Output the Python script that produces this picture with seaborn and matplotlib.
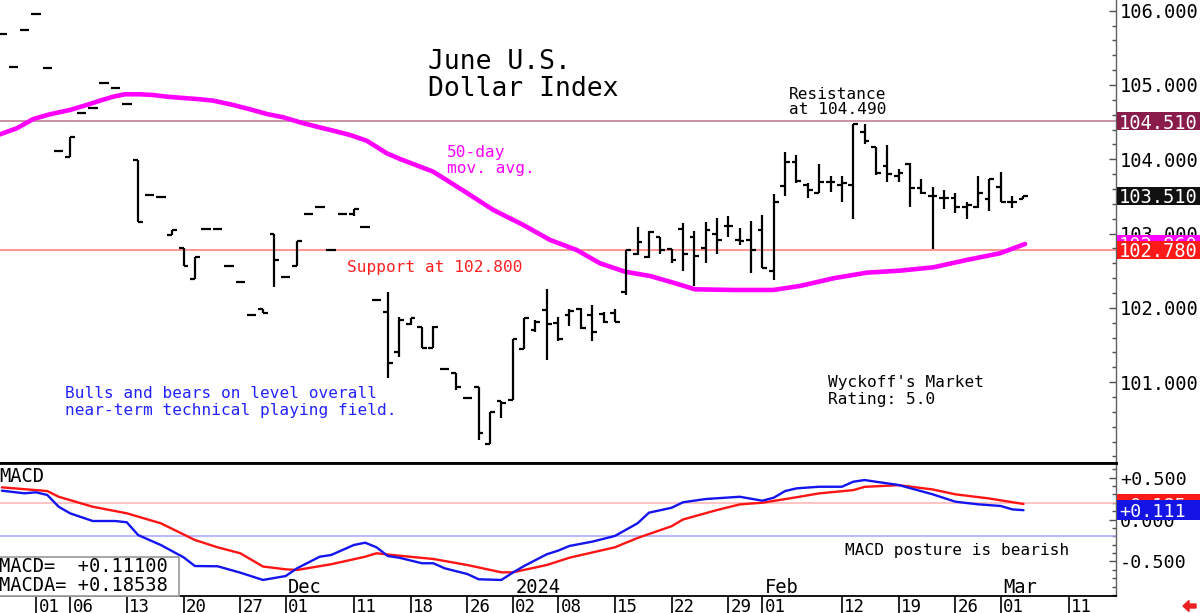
import numpy as np
import matplotlib
matplotlib.use("Agg")
import matplotlib.pyplot as plt
import seaborn as sns
from matplotlib import transforms
from matplotlib.patches import Rectangle, FancyArrow
from matplotlib.ticker import MultipleLocator

# ---------------- data (x = trading-day index, 0 = Nov 01) ----------------
day_idx = list(range(-3, 88))
opens = [105.69, 105.24, 105.74, 105.96, 105.23, 104.11, 104.03, 104.62, 104.69, 105.03,
         104.96, 104.74, 103.99, 103.52, 103.49, 102.98, 102.80, 102.39, 103.06, 103.06,
         102.56, 102.35, 101.90, 101.98, 102.99, 102.41, 102.56, 103.26, 103.36, 102.78,
         103.26, 103.26, 103.09, 102.10, 101.95, 101.40, 101.78, 101.74, 101.46, 101.18,
         101.13, 100.79, 100.93, 100.17, 100.74, 100.76, 101.45, 101.70, 101.97, 101.80,
         101.90, 101.98, 101.90, 101.92, 101.93, 102.22, 102.73, 102.69, 102.95, 102.79,
         103.06, 102.96, 102.80, 103.00, 103.10, 102.91, 102.92, 103.05, 102.49, 103.64,
         103.97, 103.65, 103.55, 103.70, 103.65, 103.65, 104.37, 104.17, 103.91, 103.77,
         103.94, 103.62, 103.50, 103.48, 103.48, 103.36, 103.36, 103.46, 103.63, 103.43,
         103.46]
highs = [105.69, 105.24, 105.74, 105.96, 105.23, 104.11, 104.30, 104.62, 104.69, 105.03,
         104.96, 104.74, 103.99, 103.52, 103.49, 103.05, 102.80, 102.68, 103.06, 103.06,
         102.56, 102.35, 101.90, 101.98, 102.99, 102.41, 102.90, 103.26, 103.36, 102.78,
         103.26, 103.33, 103.09, 102.10, 102.22, 101.875, 101.86, 101.74, 101.75, 101.18,
         101.13, 100.79, 100.93, 100.60, 100.74, 101.58, 101.86, 101.84, 102.25, 101.88,
         101.98, 102.00, 102.04, 101.94, 101.98, 102.78, 103.09, 103.03, 102.95, 102.79,
         103.14, 103.03, 103.15, 103.21, 103.23, 103.08, 103.17, 103.25, 103.53, 104.10,
         104.06, 103.68, 103.94, 103.78, 103.77, 104.48, 104.47, 104.17, 104.19, 103.87,
         103.95, 103.73, 103.63, 103.59, 103.54, 103.42, 103.78, 103.73, 103.83, 103.50,
         103.51]
lows = [105.69, 105.24, 105.74, 105.96, 105.23, 104.11, 104.03, 104.62, 104.69, 105.03,
        104.96, 104.74, 103.16, 103.52, 103.49, 102.98, 102.56, 102.39, 103.06, 103.06,
        102.56, 102.35, 101.90, 101.93, 102.28, 102.41, 102.56, 103.26, 103.36, 102.78,
        103.26, 103.24, 103.09, 102.10, 101.06, 101.34, 101.77, 101.46, 101.46, 101.18,
        100.90, 100.79, 100.22, 100.17, 100.52, 100.76, 101.44, 101.68, 101.30, 101.56,
        101.75, 101.72, 101.56, 101.80, 101.81, 102.18, 102.71, 102.67, 102.72, 102.60,
        102.49, 102.29, 102.60, 102.73, 102.96, 102.85, 102.47, 102.53, 102.37, 103.50,
        103.68, 103.48, 103.54, 103.56, 103.43, 103.19, 104.20, 103.79, 103.70, 103.69,
        103.36, 103.53, 102.79, 103.33, 103.28, 103.19, 103.34, 103.30, 103.42, 103.35,
        103.46]
closes = [105.69, 105.24, 105.74, 105.96, 105.23, 104.11, 104.30, 104.62, 104.69, 105.03,
          104.96, 104.74, 103.16, 103.52, 103.49, 103.05, 102.56, 102.68, 103.06, 103.06,
          102.56, 102.35, 101.90, 101.93, 102.65, 102.41, 102.90, 103.26, 103.36, 102.78,
          103.26, 103.33, 103.09, 102.10, 101.26, 101.84, 101.86, 101.46, 101.74, 101.18,
          100.93, 100.79, 100.32, 100.60, 100.72, 101.58, 101.86, 101.81, 101.78, 101.58,
          101.96, 101.73, 101.68, 101.81, 101.81, 102.78, 102.89, 103.02, 102.78, 102.65,
          102.73, 102.70, 103.05, 102.91, 103.10, 102.90, 102.78, 102.54, 103.42, 103.97,
          103.71, 103.58, 103.70, 103.70, 103.68, 104.47, 104.24, 103.82, 103.80, 103.81,
          103.62, 103.55, 103.50, 103.48, 103.36, 103.38, 103.54, 103.73, 103.43, 103.43,
          103.51]

ma_idx = [-3.17, -1.70, -0.24, 1.23, 3.00, 4.47, 5.64, 6.81, 7.84, 9.16, 10.33, 11.52,
          12.98, 14.45, 15.62, 17.38, 18.85, 20.33, 21.79, 23.26, 24.73, 26.19, 27.67,
          29.14, 30.90, 32.07, 35.00, 37.94, 40.29, 42.93, 45.29, 47.64, 49.69, 51.89,
          54.10, 56.15, 58.06, 61.44, 64.96, 67.31, 70.25, 73.19, 76.12, 79.06, 82.00,
          84.93, 87.14]
ma_val = [104.336, 104.417, 104.542, 104.606, 104.664, 104.731, 104.789, 104.843, 104.875,
          104.875, 104.865, 104.843, 104.825, 104.808, 104.789, 104.731, 104.673, 104.610,
          104.565, 104.498, 104.439, 104.385, 104.327, 104.250, 104.081, 104.004, 103.833,
          103.550, 103.318, 103.116, 102.914, 102.779, 102.600, 102.487, 102.429, 102.339,
          102.250, 102.241, 102.241, 102.295, 102.398, 102.474, 102.501, 102.546, 102.645,
          102.735, 102.860]

macd_idx = [-3, -1, 0, 1, 2, 3, 5, 7, 8, 9, 11, 13, 14, 16, 18, 20, 22, 23, 25, 26, 28, 29,
            30, 31, 32, 34, 35, 36, 38, 39, 41, 42, 43, 45, 46, 47, 49, 51, 53, 54, 56, 57,
            59, 62, 64, 65, 66, 67, 69, 71, 72, 73, 74, 76, 79, 81, 83, 85, 86, 87]
macd_val = [0.343, 0.312, 0.324, 0.292, 0.152, 0.074, -0.018, -0.018, -0.033, -0.185, -0.304,
            -0.450, -0.554, -0.557, -0.633, -0.720, -0.673, -0.581, -0.443, -0.423, -0.304,
            -0.276, -0.331, -0.435, -0.455, -0.521, -0.521, -0.581, -0.649, -0.712, -0.720,
            -0.633, -0.554, -0.414, -0.371, -0.315, -0.264, -0.196, -0.045, 0.081, 0.140,
            0.205, 0.244, 0.271, 0.224, 0.260, 0.339, 0.371, 0.390, 0.390, 0.450, 0.470,
            0.450, 0.411, 0.300, 0.212, 0.181, 0.161, 0.121, 0.111]
sig_idx = [-3, 1, 2, 5, 8, 11, 14, 16, 18, 20, 22, 23, 26, 29, 30, 32, 35, 38, 41, 42, 45,
           47, 51, 53, 56, 57, 60, 62, 64, 67, 69, 72, 73, 76, 79, 81, 84, 87]
sig_val = [0.383, 0.339, 0.271, 0.152, 0.074, -0.045, -0.244, -0.331, -0.402, -0.560,
           -0.593, -0.601, -0.533, -0.443, -0.402, -0.431, -0.470, -0.542, -0.629, -0.629,
           -0.542, -0.455, -0.331, -0.220, -0.080, 0.000, 0.113, 0.180, 0.200, 0.265, 0.311,
           0.350, 0.389, 0.409, 0.358, 0.300, 0.250, 0.185]

date_idx = [0, 3, 8, 13, 18, 22, 28, 33, 38, 42, 46, 51, 56, 61, 64, 71, 76, 81, 85, 91]
date_lbls = ["01", "06", "13", "20", "27", "01", "11", "18", "26", "02", "08", "15", "22",
             "29", "01", "12", "19", "26", "01", "11"]
month_idx = [22, 42, 64, 85]
month_lbls = ["Dec", "2024", "Feb", "Mar"]

resistance = 104.51
support = 102.78
last_close = 103.51
macd_last = 0.111
signal_last = 0.185
price_ticks = [101, 102, 103, 104, 105, 106]
macd_ticks = [-0.5, 0.0, 0.5]
macd_refs = [0.2, -0.2]

# ---------------- style ----------------
sns.set_style("ticks")
plt.rcParams["font.family"] = ["DejaVu Sans Mono", "DejaVu Sans"]

W, H = 1200, 613
fig = plt.figure(figsize=(W / 100, H / 100), dpi=100)
fig.patch.set_facecolor("white")


def fx(px):
    return px / W


def fy(py):
    return 1 - py / H


ax = fig.add_axes([0, fy(463), fx(1116), 463 / H])
axm = fig.add_axes([0, fy(596), fx(1116), (596 - 463) / H])

x = np.array(day_idx, dtype=float)
XL = (-3.17, 95.15)

# ---------------- price panel ----------------
ax.axhline(resistance, color="#C48A9A", lw=1.3, zorder=1)
ax.axhline(support, color="#FF8C8C", lw=1.3, zorder=1)
sns.lineplot(x=ma_idx, y=ma_val, ax=ax, color="#FF00FF", lw=3.3, zorder=2, legend=False)
ax.vlines(x, lows, highs, color="black", lw=1.6, zorder=3)
ax.hlines(opens, x - 0.42, x, color="black", lw=1.6, zorder=3)
ax.hlines(closes, x, x + 0.42, color="black", lw=1.6, zorder=3)

ax.set_xlim(*XL)
ax.set_ylim(99.912, 106.144)
ax.set_xlabel("")
ax.set_ylabel("")
ax.set_xticks([])
ax.yaxis.tick_right()
ax.set_yticks(price_ticks)
ax.set_yticklabels([f"{v:.3f}" for v in price_ticks])
ax.yaxis.set_minor_locator(MultipleLocator(0.2))
ax.tick_params(axis="y", which="major", direction="in", length=5, width=1, color="#505050",
               pad=3, labelsize=13.5, labelcolor="black", right=True, left=False,
               labelright=True, labelleft=False)
ax.tick_params(axis="y", which="minor", direction="in", length=3, width=1, color="#505050",
               right=True, left=False)
for s in ["left", "top"]:
    ax.spines[s].set_visible(False)
ax.spines["right"].set_color("#606060")
ax.spines["right"].set_linewidth(1)
ax.spines["bottom"].set_color("black")
ax.spines["bottom"].set_linewidth(2)

blend_p = transforms.blended_transform_factory(ax.transAxes, ax.transData)
price_boxes = [(resistance, "#8A1C4C"), (last_close, "#111111"),
               (ma_val[-1], "#FF00FF"), (support, "#FF1A1A")]
for i, (v, col) in enumerate(price_boxes):
    ax.add_patch(Rectangle((1.0008, v - 0.122), 0.08, 0.244, transform=blend_p,
                           facecolor=col, edgecolor="none", clip_on=False, zorder=6 + i))
    ax.text(1.0 + 3 / 1116, v, f"{v:.3f}", transform=blend_p, color="white",
            fontsize=13.5, va="center_baseline", ha="left", clip_on=False, zorder=6.5 + i)

# ---------------- MACD panel ----------------
for v, col in zip(macd_refs, ["#FFB4B4", "#A6A6FF"]):
    axm.axhline(v, color=col, lw=1.1, zorder=1)
sns.lineplot(x=sig_idx, y=sig_val, ax=axm, color="#FF1414", lw=1.7, zorder=3, legend=False)
sns.lineplot(x=macd_idx, y=macd_val, ax=axm, color="#1414F0", lw=1.7, zorder=3, legend=False)

axm.set_xlim(*XL)
axm.set_ylim(-0.911, 0.673)
axm.set_xlabel("")
axm.set_ylabel("")
axm.yaxis.tick_right()
axm.set_yticks(macd_ticks)
axm.set_yticklabels(["-0.500", "0.000", "+0.500"])
axm.yaxis.set_minor_locator(MultipleLocator(0.1))
axm.tick_params(axis="y", which="major", direction="in", length=5, width=1, color="#505050",
                pad=3, labelsize=13.2, labelcolor="black", right=True, left=False,
                labelright=True, labelleft=False)
axm.tick_params(axis="y", which="minor", direction="in", length=3, width=1, color="#505050",
                right=True, left=False)
axm.spines["left"].set_visible(False)
axm.spines["right"].set_color("#606060")
axm.spines["right"].set_linewidth(1)
axm.spines["top"].set_color("black")
axm.spines["top"].set_linewidth(2)
axm.spines["bottom"].set_color("black")
axm.spines["bottom"].set_linewidth(1.3)

axm.set_xticks(date_idx)
axm.set_xticklabels(date_lbls)
axm.tick_params(axis="x", which="major", direction="out", length=12.5, width=1.2,
                color="black", pad=-11.2, labelsize=12.5, labelcolor="black",
                bottom=True, top=False)
offset = transforms.ScaledTranslation(2.5 / 100, 0, fig.dpi_scale_trans)
for lab in axm.get_xticklabels():
    lab.set_ha("left")
    lab.set_transform(lab.get_transform() + offset)

blend_mx = transforms.blended_transform_factory(axm.transData, axm.transAxes)
for mi, ml in zip(month_idx, month_lbls):
    axm.text(mi, (596 - 593) / 133, ml, transform=blend_mx + offset, fontsize=13.5,
             va="baseline", ha="left", color="black", zorder=5)

blend_m = transforms.blended_transform_factory(axm.transAxes, axm.transData)
for i, (v, col) in enumerate([(signal_last, "#FF1A1A"), (macd_last, "#1414E6")]):
    axm.add_patch(Rectangle((1.0008, v - 0.119), 0.08, 0.238, transform=blend_m,
                            facecolor=col, edgecolor="none", clip_on=False, zorder=6 + i))
    axm.text(1.0 + 3 / 1116, v, f"+{v:.3f}", transform=blend_m, color="white",
             fontsize=13.2, va="center_baseline", ha="left", clip_on=False, zorder=6.5 + i)

# MACD value box
axm.add_patch(Rectangle((-0.01, 0.0), 179 / 1116 + 0.01, (596 - 557) / 133,
                        transform=axm.transAxes, facecolor="white", edgecolor="#A0A0A0",
                        lw=1.3, zorder=4, clip_on=False))

# ---------------- text annotations ----------------
def ftext(px, py, s, **kw):
    fig.text(fx(px), fy(py), s, va="baseline", ha="left", **kw)


ftext(428, 69, "June U.S.", fontsize=19, color="black")
ftext(428, 96, "Dollar Index", fontsize=19, color="black")
ftext(789, 99, "Resistance", fontsize=11.6, color="black")
ftext(789, 114.5, "at 104.490", fontsize=11.6, color="black")
ftext(447, 157, "50-day", fontsize=11.6, color="#FF00FF")
ftext(447, 173, "mov. avg.", fontsize=11.6, color="#FF00FF")
ftext(347, 272, "Support at 102.800", fontsize=11.6, color="#FF2020")
ftext(65, 398, "Bulls and bears on level overall", fontsize=11.6, color="#2323FF")
ftext(65, 415, "near-term technical playing field.", fontsize=11.6, color="#2323FF")
ftext(828, 387, "Wyckoff's Market", fontsize=11.6, color="black")
ftext(828, 404, "Rating: 5.0", fontsize=11.6, color="black")
ftext(845, 555, "MACD posture is bearish", fontsize=11.6, color="black")
ftext(-1, 482, "MACD", fontsize=13.5, color="black")
ftext(-1, 572, "MACD=  +0.11100", fontsize=13.5, color="black", zorder=10)
ftext(-1, 591, "MACDA= +0.18538", fontsize=13.5, color="black", zorder=10)

fig.patches.append(FancyArrow(fx(1196), fy(606), -13 / W, 0, width=4 / H, head_width=11 / H,
                              head_length=6 / W, length_includes_head=True,
                              transform=fig.transFigure, color="#E82020", figure=fig))

fig.savefig("out.png", dpi=100, facecolor="white")
